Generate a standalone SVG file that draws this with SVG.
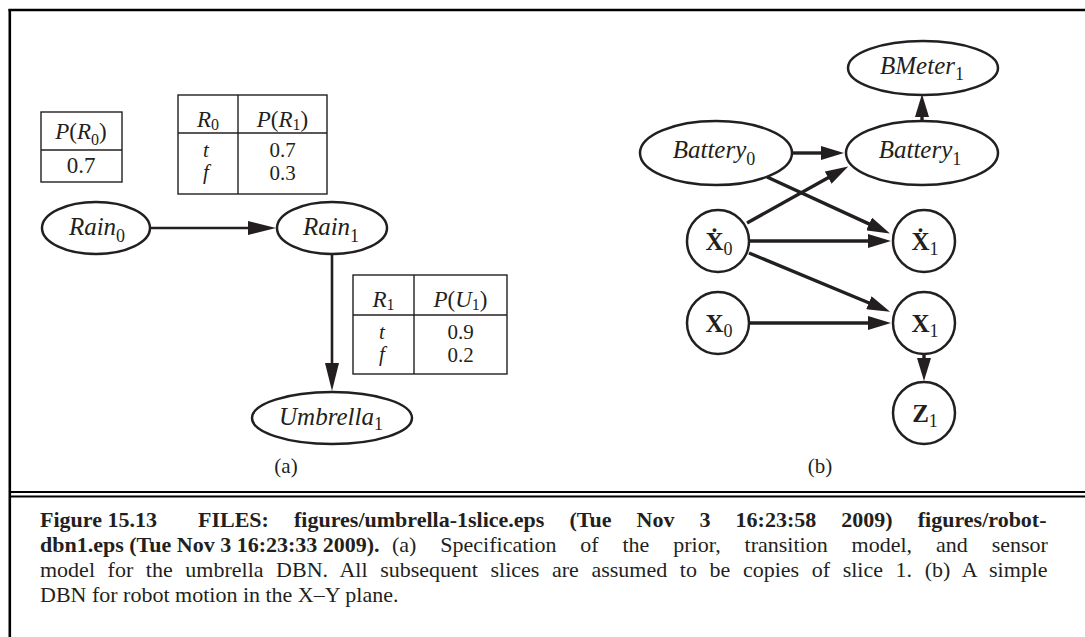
<svg xmlns="http://www.w3.org/2000/svg" width="1085" height="637" viewBox="0 0 1085 637">
<style>
.t{font-family:"Liberation Serif","Times New Roman",serif;fill:#231f20}
.it{font-style:italic}
.bd{font-weight:bold}
.nd{fill:#fff;stroke:#231f20;stroke-width:2.5}
.tb{fill:none;stroke:#231f20;stroke-width:1.4}
.ea{fill:none;stroke:#231f20;stroke-width:2.6}
.eb{fill:none;stroke:#231f20;stroke-width:3.4}
.fr{stroke:#000;fill:none}
</style>
<defs>
<marker id="ha" markerUnits="userSpaceOnUse" viewBox="0 -7 28 14" markerWidth="28" markerHeight="14" refX="1" refY="0" orient="auto"><path d="M0,-7 L28,0 L0,7 z" fill="#231f20"/></marker>
<marker id="hb" markerUnits="userSpaceOnUse" viewBox="0 -7 23 14" markerWidth="23" markerHeight="14" refX="1" refY="0" orient="auto"><path d="M0,-7 L23,0 L0,7 z" fill="#231f20"/></marker>
</defs>
<g id="frame">
<line class="fr" x1="8.5" y1="10" x2="1085" y2="10" stroke-width="2.5"/>
<line class="fr" x1="9.8" y1="9" x2="9.8" y2="637" stroke-width="2.6"/>
<line class="fr" x1="10" y1="492" x2="1085" y2="492" stroke-width="2"/>
<line class="fr" x1="10" y1="496.5" x2="1085" y2="496.5" stroke-width="2"/>
</g>
<g id="connectors">
<line class="ea" x1="150" y1="228" x2="249" y2="228" marker-end="url(#ha)"/>
<line class="ea" x1="332" y1="254" x2="332" y2="364" marker-end="url(#ha)"/>
<line class="eb" x1="922" y1="121" x2="922" y2="116" marker-end="url(#hb)"/>
<line class="eb" x1="793" y1="153" x2="822" y2="153" marker-end="url(#hb)"/>
<line class="eb" x1="767" y1="177" x2="870" y2="224.4" marker-end="url(#hb)"/>
<line class="eb" x1="747" y1="223" x2="829" y2="177.2" marker-end="url(#hb)"/>
<line class="eb" x1="750" y1="241" x2="869" y2="241" marker-end="url(#hb)"/>
<line class="eb" x1="749" y1="253" x2="869.8" y2="303.2" marker-end="url(#hb)"/>
<line class="eb" x1="750" y1="323" x2="869" y2="323" marker-end="url(#hb)"/>
<line class="eb" x1="924" y1="354" x2="924" y2="359" marker-end="url(#hb)"/>
</g>
<g id="tableR0">
<rect class="tb" x="41" y="112" width="81" height="70"/>
<line class="tb" x1="41" y1="150" x2="122" y2="150"/>
<text class="t" x="81" y="139" font-size="23" text-anchor="middle"><tspan class="it">P</tspan>(<tspan class="it">R</tspan><tspan font-size="16" dy="6">0</tspan><tspan dy="-6">)</tspan></text>
<text class="t" x="81" y="173" font-size="23" text-anchor="middle">0.7</text>
</g>
<g id="tableR1">
<rect class="tb" x="178" y="95" width="149" height="99"/>
<line class="tb" x1="238" y1="95" x2="238" y2="194"/>
<line class="tb" x1="178" y1="133" x2="327" y2="133"/>
<text class="t" x="208" y="127" font-size="23" text-anchor="middle"><tspan class="it">R</tspan><tspan font-size="16" dy="3">0</tspan></text>
<text class="t" x="282.5" y="127" font-size="23" text-anchor="middle"><tspan class="it">P</tspan>(<tspan class="it">R</tspan><tspan font-size="16" dy="3">1</tspan><tspan dy="-3">)</tspan></text>
<text class="t it" font-size="21" text-anchor="middle"><tspan x="206" y="157">t</tspan><tspan x="206" y="179">f</tspan></text>
<text class="t" font-size="21" text-anchor="middle"><tspan x="282.5" y="157">0.7</tspan><tspan x="282.5" y="180">0.3</tspan></text>
</g>
<g id="tableU1">
<rect class="tb" x="353" y="275" width="154" height="99"/>
<line class="tb" x1="414" y1="275" x2="414" y2="374"/>
<line class="tb" x1="353" y1="315" x2="507" y2="315"/>
<text class="t" x="383.5" y="307" font-size="23" text-anchor="middle"><tspan class="it">R</tspan><tspan font-size="16" dy="3">1</tspan></text>
<text class="t" x="460.5" y="307" font-size="23" text-anchor="middle"><tspan class="it">P</tspan>(<tspan class="it">U</tspan><tspan font-size="16" dy="3">1</tspan><tspan dy="-3">)</tspan></text>
<text class="t it" font-size="21" text-anchor="middle"><tspan x="382" y="339">t</tspan><tspan x="382" y="361">f</tspan></text>
<text class="t" font-size="21" text-anchor="middle"><tspan x="460.5" y="339">0.9</tspan><tspan x="460.5" y="362">0.2</tspan></text>
</g>
<g id="Rain0">
<ellipse class="nd" cx="96" cy="228" rx="54" ry="26"/>
<text class="t" x="97" y="235" font-size="25" text-anchor="middle"><tspan class="it">Rain</tspan><tspan font-size="18" dy="7">0</tspan></text>
</g>
<g id="Rain1">
<ellipse class="nd" cx="332" cy="228" rx="55" ry="26"/>
<text class="t" x="331" y="235" font-size="25" text-anchor="middle"><tspan class="it">Rain</tspan><tspan font-size="18" dy="7">1</tspan></text>
</g>
<g id="Umbrella1">
<ellipse class="nd" cx="332" cy="418" rx="80" ry="26"/>
<text class="t" x="331" y="425" font-size="25" text-anchor="middle"><tspan class="it">Umbrella</tspan><tspan font-size="18" dy="5">1</tspan></text>
</g>
<g id="BMeter1">
<ellipse class="nd" cx="923" cy="68" rx="75" ry="27"/>
<text class="t" x="922" y="74" font-size="25" text-anchor="middle"><tspan class="it">BMeter</tspan><tspan font-size="18" dy="6">1</tspan></text>
</g>
<g id="Battery0">
<ellipse class="nd" cx="716" cy="153" rx="76" ry="32"/>
<text class="t" x="714" y="158" font-size="25" text-anchor="middle"><tspan class="it">Battery</tspan><tspan font-size="18" dy="7">0</tspan></text>
</g>
<g id="Battery1">
<ellipse class="nd" cx="922" cy="153" rx="76" ry="32"/>
<text class="t" x="920" y="158" font-size="25" text-anchor="middle"><tspan class="it">Battery</tspan><tspan font-size="18" dy="7">1</tspan></text>
</g>
<g id="Xdot0">
<circle class="nd" cx="718" cy="241" r="31"/>
<text class="t" x="719" y="250" font-size="25" text-anchor="middle"><tspan class="bd">Ẋ</tspan><tspan font-size="18" dy="5">0</tspan></text>
</g>
<g id="Xdot1">
<circle class="nd" cx="924" cy="241" r="31"/>
<text class="t" x="925" y="250" font-size="25" text-anchor="middle"><tspan class="bd">Ẋ</tspan><tspan font-size="18" dy="5">1</tspan></text>
</g>
<g id="X0">
<circle class="nd" cx="718" cy="323" r="31"/>
<text class="t" x="719" y="332" font-size="25" text-anchor="middle"><tspan class="bd">X</tspan><tspan font-size="18" dy="5">0</tspan></text>
</g>
<g id="X1">
<circle class="nd" cx="924" cy="323" r="31"/>
<text class="t" x="925" y="332" font-size="25" text-anchor="middle"><tspan class="bd">X</tspan><tspan font-size="18" dy="5">1</tspan></text>
</g>
<g id="Z1">
<circle class="nd" cx="924" cy="413" r="31"/>
<text class="t" x="925" y="422" font-size="25" text-anchor="middle"><tspan class="bd">Z</tspan><tspan font-size="18" dy="5">1</tspan></text>
</g>
<g id="labels">
<text class="t" x="286" y="473" font-size="21" text-anchor="middle">(a)</text>
<text class="t" x="820" y="473" font-size="21" text-anchor="middle">(b)</text>
</g>
<g id="caption" font-size="22">
<text class="t bd" x="40" y="527">Figure 15.13</text>
<text class="t bd" x="198" y="527" word-spacing="19.6">FILES: figures/umbrella-1slice.eps (Tue Nov 3 16:23:58 2009) figures/robot-</text>
<text class="t bd" x="40" y="552">dbn1.eps (Tue Nov 3 16:23:33 2009).</text>
<text class="t" x="392" y="552" word-spacing="18.4">(a) Specification of the prior, transition model, and sensor</text>
<text class="t" x="40" y="577" word-spacing="7.1">model for the umbrella DBN. All subsequent slices are assumed to be copies of slice 1. (b) A simple</text>
<text class="t" x="40" y="602">DBN for robot motion in the X–Y plane.</text>
</g>
</svg>
